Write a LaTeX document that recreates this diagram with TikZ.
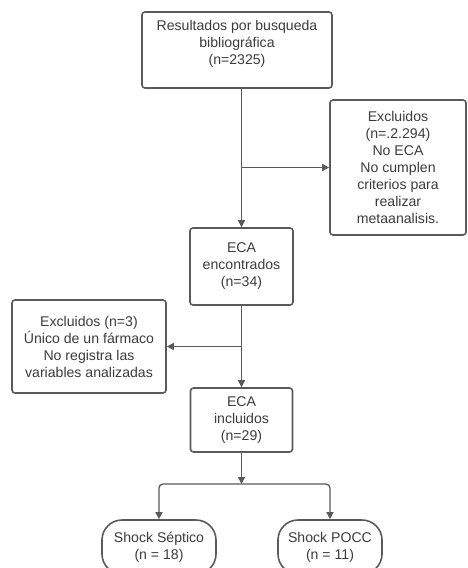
\documentclass[tikz,border=0pt]{standalone}
\usepackage{fontspec}
\setmainfont{Liberation Sans}
\usetikzlibrary{arrows.meta}
\definecolor{linegray}{HTML}{5A5A5A}
\definecolor{textgray}{HTML}{3C3C3C}
\tikzset{
  boxstyle/.style={draw=linegray, line width=1.6pt, rounded corners=3pt, fill=white,
    inner sep=0pt, align=center, text=textgray,
    font=\fontsize{14.1}{17}\selectfont},
  termstyle/.style={boxstyle, rounded corners=20pt},
  txtstyle/.style={inner sep=0pt, align=center, text=textgray,
    font=\fontsize{14.1}{17}\selectfont},
  arr/.style={draw=linegray, line width=1.3pt, -{Triangle[length=7pt,width=7pt]}},
}
\begin{document}
\begin{tikzpicture}[x=1pt,y=-1pt]
\useasboundingbox (0,0) rectangle (467,568);
\clip (0,0) rectangle (467,568);
\fill[white] (0,0) rectangle (467,568);
\node[boxstyle, minimum width=190pt, minimum height=76pt] (top) at (237,50) {};
\node[txtstyle] (toptxt) at (237,44) {Resultados por busqueda\\bibliográfica\\(n=2325)};
\node[boxstyle, minimum width=136pt, minimum height=135pt] (excl1) at (398,167.5)
  {Excluidos\\(n=.2.294)\\No ECA\\No cumplen\\criterios para\\realizar\\metaanalisis.};
\node[boxstyle, minimum width=103pt, minimum height=77pt] (eca1) at (241.5,266.5)
  {ECA\\encontrados\\(n=34)};
\node[boxstyle, minimum width=154pt, minimum height=93pt] (excl2) at (89,346.5)
  {Excluidos (n=3)\\Único de un fármaco\\No registra las\\variables analizadas};
\node[boxstyle, minimum width=102pt, minimum height=64pt] (eca2) at (241.5,420)
  {ECA\\incluidos\\(n=29)};
\node[termstyle, minimum width=114pt, minimum height=54pt] (t1) at (159,547)
  {Shock Séptico\\(n = 18)};
\node[termstyle, minimum width=104pt, minimum height=54pt] (t2) at (330,547)
  {Shock POCC\\(n = 11)};
\coordinate (j) at (241.5,484);
\draw[arr] (eca1.north |- top.south) -- (eca1.north);
\draw[arr] (eca1.north |- excl1.west) -- (excl1.west);
\draw[arr] (eca1.south) -- (eca2.north);
\draw[arr] (eca1.south |- excl2.east) -- (excl2.east);
\draw[arr] (eca2.south) -- (j);
\draw[arr, rounded corners=4pt] (j) -| (t1.north);
\draw[arr, rounded corners=4pt] (j) -| (t2.north);
\end{tikzpicture}
\end{document}
